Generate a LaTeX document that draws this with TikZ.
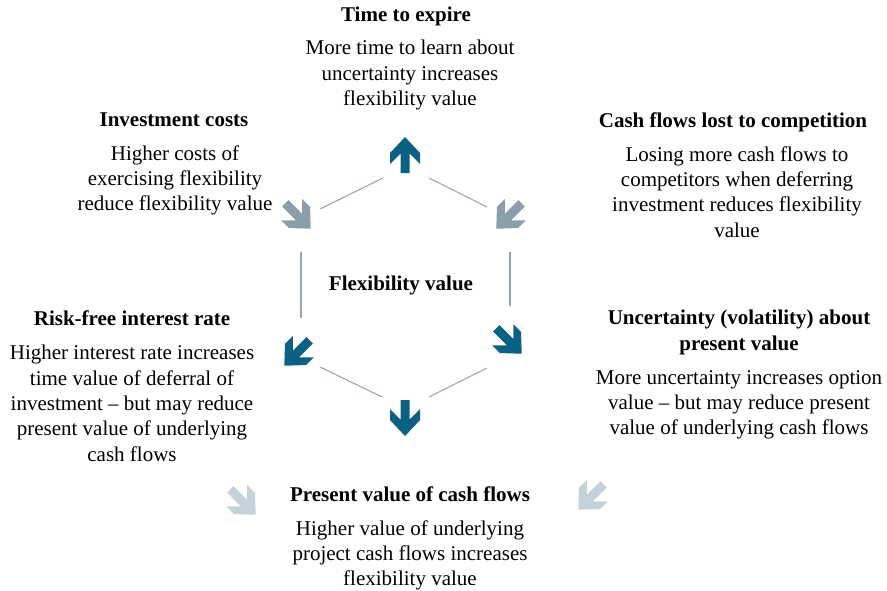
\documentclass[tikz,border=0pt]{standalone}
\usepackage{fontspec}
\setmainfont{Liberation Serif}
\definecolor{flexdark}{HTML}{0C6182}
\definecolor{flexgray}{HTML}{8C9EA9}
\definecolor{flexpale}{HTML}{C4D2DA}
\definecolor{linkgray}{HTML}{93A6B2}
\tikzset{
  blockarrow/.pic={
    \fill[pic actions] (0,-18) -- (-15,-2) -- (-15,9) -- (-4.5,-1.5) -- (-4.5,18)
      -- (4.5,18) -- (4.5,-1.5) -- (15,9) -- (15,-2) -- cycle;
  }
}
\begin{document}
\begin{tikzpicture}[x=0.75pt,y=-0.75pt,
  font=\fontsize{15.75}{19}\selectfont,
  head/.style={font=\fontsize{15.75}{19}\selectfont\bfseries, inner sep=0, anchor=north},
  body/.style={align=center, inner sep=0, anchor=north},
  link/.style={draw=linkgray, line width=0.8pt}]
\useasboundingbox (0,0) rectangle (887,590);
% hexagon of thin links
\draw[link] (320,209) -- (383,178);
\draw[link] (429,178) -- (487,207);
\draw[link] (301,252) -- (301,318);
\draw[link] (510,252) -- (510,306);
\draw[link] (320,367) -- (382,397);
\draw[link] (429,397) -- (487,368);
% block arrows
\pic[fill=flexdark] (up) at (405,155) {blockarrow};
\pic[fill=flexgray, rotate=-135] (cost) at (298,216) {blockarrow};
\pic[fill=flexgray, rotate=135] (lost) at (509,216) {blockarrow};
\pic[fill=flexdark, rotate=135] (rate) at (297,353) {blockarrow};
\pic[fill=flexdark, rotate=-135] (vol) at (509,341) {blockarrow};
\pic[fill=flexdark, rotate=180] (down) at (405,418) {blockarrow};
\pic[fill=flexpale, rotate=-135] (pvl) at (243,502) {blockarrow};
\pic[fill=flexpale, rotate=135] (pvr) at (591,497) {blockarrow};
% factors
\node[head] (expire) at (406,7) {Time to expire};
\node[body] (expiretxt) at (410,40) {More time to learn about\\uncertainty increases\\flexibility value};
\node[head] (cost) at (174,112) {Investment costs};
\node[body] (costtxt) at (175,145) {Higher costs of\\exercising flexibility\\reduce flexibility value};
\node[head] (lost) at (733,112) {Cash flows lost to competition};
\node[body] (losttxt) at (737,146) {Losing more cash flows to\\competitors when deferring\\investment reduces flexibility\\value};
\node[head] (flex) at (401,276) {Flexibility value};
\node[head] (rate) at (132,310) {Risk-free interest rate};
\node[body] (ratetxt) at (132,345) {Higher interest rate increases\\time value of deferral of\\investment -- but may reduce\\present value of underlying\\cash flows};
\node[head, align=center] (vol) at (739,310) {Uncertainty (volatility) about\\present value};
\node[body] (voltxt) at (739,370) {More uncertainty increases option\\value -- but may reduce present\\value of underlying cash flows};
\node[head] (pv) at (410,486) {Present value of cash flows};
\node[body] (pvtxt) at (410,520) {Higher value of underlying\\project cash flows increases\\flexibility value};
\end{tikzpicture}
\end{document}
